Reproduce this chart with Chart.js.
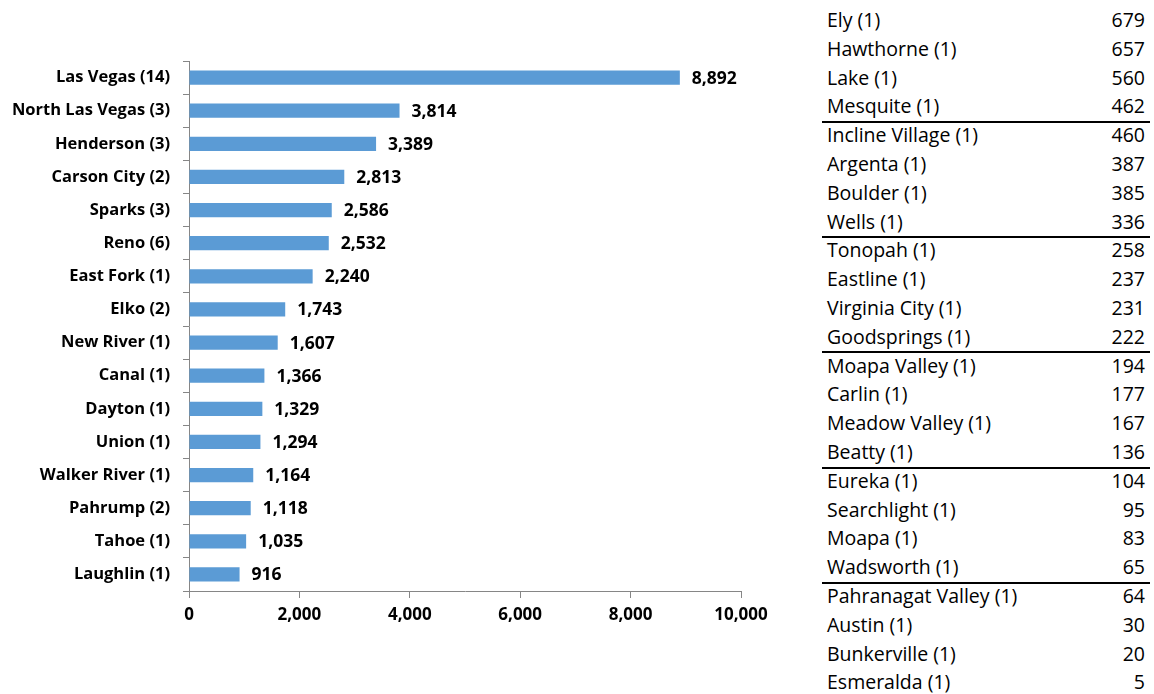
<!DOCTYPE html>
<html>
<head>
<meta charset="utf-8">
<script src="https://cdn.jsdelivr.net/npm/chart.js@4"></script>
<style>
  html, body { margin: 0; padding: 0; background: #fff; width: 1154px; height: 694px; overflow: hidden; }
  #wrap { position: absolute; left: 0; top: 0; width: 800px; height: 694px; }
  #tbl { position: absolute; left: 822px; top: 0; width: 328px; height: 694px;
         font-family: "Open Sans", Lato, sans-serif; font-size: 19.5px; color: #000; }
  .row { position: absolute; left: 0; width: 328px; height: 28px; line-height: 28px; white-space: nowrap; }
  .row .n { position: absolute; left: 5px; }
  .row .v { position: absolute; right: 5px; }
  .sep { position: absolute; left: 0; width: 328px; height: 2px; background: #000; }
</style>
</head>
<body>
<div id="wrap"><canvas id="c" width="800" height="694"></canvas></div>
<div id="tbl"></div>
<script>
const categories = ["Las Vegas (14)", "North Las Vegas (3)", "Henderson (3)", "Carson City (2)", "Sparks (3)", "Reno (6)", "East Fork (1)", "Elko (2)", "New River (1)", "Canal (1)", "Dayton (1)", "Union (1)", "Walker River (1)", "Pahrump (2)", "Tahoe (1)", "Laughlin (1)"];
const values = [8892, 3814, 3389, 2813, 2586, 2532, 2240, 1743, 1607, 1366, 1329, 1294, 1164, 1118, 1035, 916];
const xTicks = [0, 2000, 4000, 6000, 8000, 10000];
const tableNames = ["Ely (1)", "Hawthorne (1)", "Lake (1)", "Mesquite (1)", "Incline Village (1)", "Argenta (1)", "Boulder (1)", "Wells (1)", "Tonopah (1)", "Eastline (1)", "Virginia City (1)", "Goodsprings (1)", "Moapa Valley (1)", "Carlin (1)", "Meadow Valley (1)", "Beatty (1)", "Eureka (1)", "Searchlight (1)", "Moapa (1)", "Wadsworth (1)", "Pahranagat Valley (1)", "Austin (1)", "Bunkerville (1)", "Esmeralda (1)"];
const tableValues = [679, 657, 560, 462, 460, 387, 385, 336, 258, 237, 231, 222, 194, 177, 167, 136, 104, 95, 83, 65, 64, 30, 20, 5];

// Table (text rows with a rule after every fourth row)
const tbl = document.getElementById('tbl');
const ROW = 28.8, FIRST = 20;
tableNames.forEach((n, i) => {
  const r = document.createElement('div');
  r.className = 'row';
  r.style.top = (FIRST + ROW * i - 14) + 'px';
  const a = document.createElement('span'); a.className = 'n'; a.textContent = n;
  const b = document.createElement('span'); b.className = 'v'; b.textContent = tableValues[i].toLocaleString('en-US');
  r.appendChild(a); r.appendChild(b); tbl.appendChild(r);
  if (i % 4 === 3 && i < tableNames.length - 1) {
    const s = document.createElement('div');
    s.className = 'sep';
    s.style.top = (FIRST + ROW * i + 14.5) + 'px';
    tbl.appendChild(s);
  }
});

const FONT = '"Open Sans", Lato, sans-serif';
const valueLabels = {
  id: 'valueLabels',
  afterDatasetsDraw(chart) {
    const ctx = chart.ctx;
    const meta = chart.getDatasetMeta(0);
    ctx.save();
    ctx.font = 'bold 17.5px ' + FONT;
    ctx.fillStyle = '#000';
    ctx.textAlign = 'left';
    ctx.textBaseline = 'middle';
    meta.data.forEach((bar, i) => {
      ctx.fillText(values[i].toLocaleString('en-US'), bar.x + 12, bar.y + 1);
    });
    ctx.restore();
  }
};

new Chart(document.getElementById('c'), {
  type: 'bar',
  data: {
    labels: categories,
    datasets: [{ data: values, backgroundColor: '#5B9BD5', borderWidth: 0, categoryPercentage: 1, barPercentage: 0.43 }]
  },
  options: {
    indexAxis: 'y',
    responsive: false,
    animation: false,
    layout: { padding: { top: 61, right: 59, left: 0, bottom: 0 } },
    plugins: { legend: { display: false }, tooltip: { enabled: false } },
    scales: {
      x: {
        min: 0, max: 10000,
        afterBuildTicks(scale) { scale.ticks = xTicks.map(v => ({ value: v })); },
        afterFit(scale) { scale.height = 103; },
        grid: { drawOnChartArea: false, tickLength: 7, color: '#868686' },
        border: { color: '#868686', width: 1 },
        ticks: { color: '#000', font: { family: FONT, size: 17, weight: 'bold' }, padding: 7,
                 callback: v => v.toLocaleString('en-US'), maxRotation: 0 }
      },
      y: {
        afterFit(scale) { scale.width = 189; },
        grid: { drawOnChartArea: false, tickLength: 6, color: '#868686', offset: true },
        border: { color: '#868686', width: 1 },
        ticks: { color: '#000', font: { family: FONT, size: 16.5, weight: 'bold' }, padding: 13, autoSkip: false }
      }
    }
  },
  plugins: [valueLabels]
});
</script>
</body>
</html>
